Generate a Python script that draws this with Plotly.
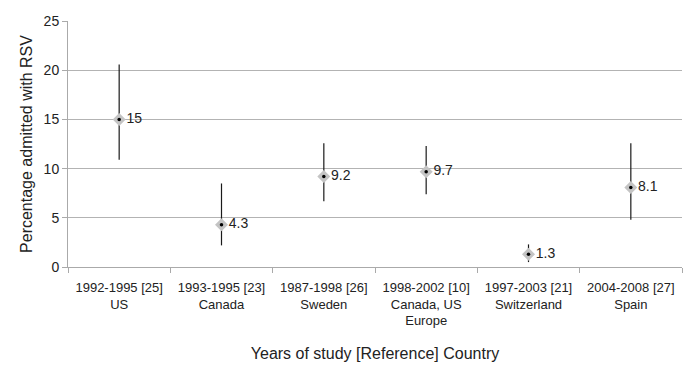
import plotly.graph_objects as go

categories = ["1992-1995 [25]<br>US", "1993-1995 [23]<br>Canada", "1987-1998 [26]<br>Sweden",
              "1998-2002 [10]<br>Canada, US<br>Europe", "1997-2003 [21]<br>Switzerland",
              "2004-2008 [27]<br>Spain"]
values = [15, 4.3, 9.2, 9.7, 1.3, 8.1]
upper = [20.6, 8.5, 12.6, 12.3, 2.3, 12.6]
lower = [10.9, 2.2, 6.7, 7.4, 0.5, 4.8]
labels = ["15", "4.3", "9.2", "9.7", "1.3", "8.1"]

plus = [u - v for u, v in zip(upper, values)]
minus = [v - l for v, l in zip(values, lower)]

FONT = "Liberation Sans, Arial, sans-serif"

fig = go.Figure()
fig.add_trace(go.Scatter(
    x=categories, y=values, mode="markers+text",
    error_y=dict(type="data", symmetric=False, array=plus, arrayminus=minus,
                 color="#1a1a1a", thickness=1.2, width=0),
    marker=dict(symbol="diamond", size=10, color="#c4c4c4", line=dict(width=0)),
    text=labels, textposition="middle right",
    textfont=dict(family=FONT, size=14, color="#222"),
    hoverinfo="skip", showlegend=False,
))
fig.add_trace(go.Scatter(
    x=categories, y=values, mode="markers",
    marker=dict(symbol="circle", size=3.5, color="#000"),
    hoverinfo="skip", showlegend=False,
))

fig.update_layout(
    width=700, height=373,
    margin=dict(l=68, r=18, t=21, b=106),
    paper_bgcolor="white", plot_bgcolor="white",
    font=dict(family=FONT, color="#222"),
    xaxis=dict(
        type="category", tickson="boundaries", ticks="outside", ticklen=5,
        tickcolor="#aaa", showline=True, linecolor="#aaa", linewidth=1,
        showgrid=False, tickfont=dict(size=13, color="#222"), automargin=False,
        ticklabelstandoff=8,
        title=dict(text="Years of study [Reference] Country", font=dict(size=16, color="#222"), standoff=20),
        range=[-0.5, 5.5],
    ),
    yaxis=dict(
        range=[0, 25.03], tickvals=[0, 5, 10, 15, 20, 25], showgrid=True, gridcolor="#b3b3b3", gridwidth=1,
        showline=True, linecolor="#aaa", linewidth=1, ticks="outside", ticklen=5,
        tickcolor="#aaa", zeroline=False, tickfont=dict(size=14, color="#222"), automargin=False,
        title=dict(text="Percentage admitted with RSV", font=dict(size=16, color="#222"), standoff=7),
    ),
)

fig.write_html("out.html", config={"displayModeBar": False},
               post_script="document.body.style.margin='0';")
